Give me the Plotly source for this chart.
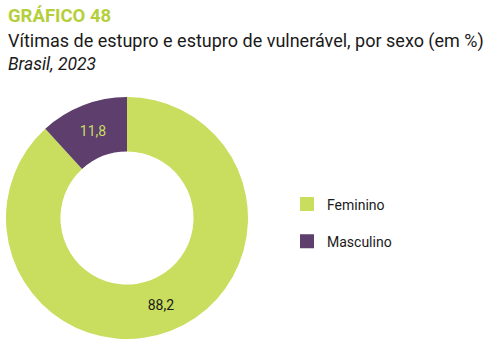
import plotly.graph_objects as go

labels = ["Feminino", "Masculino"]
values = [88.2, 11.8]
text_labels = ["88,2", "11,8"]
colors = ["#C9DD5E", "#5E3E6D"]
text_colors = ["#1a1a1a", "#C9DD5E"]

W, H = 494, 353
fig = go.Figure()
fig.add_trace(go.Pie(
    labels=labels, values=values, text=text_labels,
    textinfo="text", textposition="inside", insidetextorientation="horizontal",
    hole=0.55, sort=False, direction="clockwise", rotation=0,
    marker=dict(colors=colors, line=dict(width=0)),
    textfont=dict(family="Roboto, sans-serif", size=14, color=text_colors),
    domain=dict(x=[6/W, 248/W], y=[14/H, 256/H]),
    showlegend=False,
))
# legend entries (built from the same labels/colors)
for lab, col in zip(labels, colors):
    fig.add_trace(go.Scatter(
        x=[None], y=[None], mode="markers", name=lab, legendgroup=lab,
        marker=dict(symbol="square", size=14, color=col),
    ))

fig.update_layout(
    width=W, height=H, margin=dict(l=0, r=0, t=0, b=0),
    paper_bgcolor="white", plot_bgcolor="white",
    xaxis=dict(visible=False), yaxis=dict(visible=False),
    legend=dict(x=287/W, y=1-223/H, xanchor="left", yanchor="middle",
                font=dict(family="Roboto, sans-serif", size=14, color="#1a1a1a"),
                tracegroupgap=16, itemsizing="trace", traceorder="grouped"),
    annotations=[
        dict(text="<b>GRÁFICO 48</b>", x=6/W, y=1-3/H, xref="paper", yref="paper", xanchor="left", yanchor="top",
             showarrow=False, font=dict(family="Roboto, sans-serif", size=18.5, color="#B5CF3C")),
        dict(text="Vítimas de estupro e estupro de vulnerável, por sexo (em %)", x=6/W, y=1-28/H, xref="paper", yref="paper",
             xanchor="left", yanchor="top", showarrow=False, font=dict(family="Roboto, sans-serif", size=18, color="#1a1a1a")),
        dict(text="<i>Brasil, 2023</i>", x=6/W, y=1-52/H, xref="paper", yref="paper",
             xanchor="left", yanchor="top", showarrow=False, font=dict(family="Roboto, sans-serif", size=17.5, color="#1a1a1a")),
    ],
)
fig.write_html("out.html")
